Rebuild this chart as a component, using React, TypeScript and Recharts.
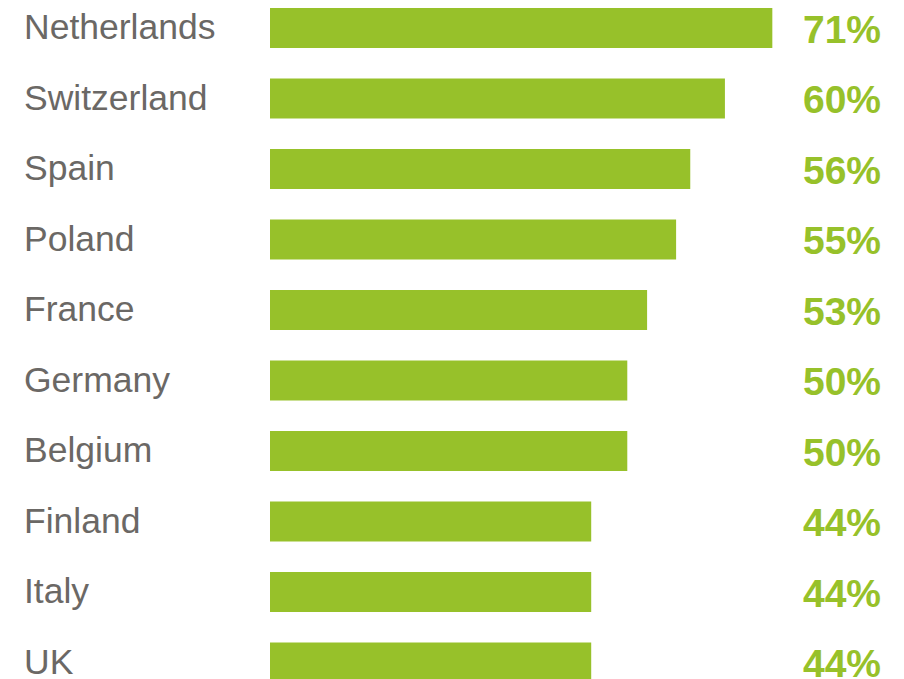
import React from 'react';
import { BarChart, Bar, XAxis, YAxis, LabelList } from 'recharts';

// countries, top to bottom
const countries = ['Netherlands', 'Switzerland', 'Spain', 'Poland', 'France', 'Germany', 'Belgium', 'Finland', 'Italy', 'UK'];
// printed shares (%)
const shares = [71, 60, 56, 55, 53, 50, 50, 44, 44, 44];
// bar lengths as drawn in the picture (same % scale)
const barLengths = [71, 64.3, 59.4, 57.4, 53.3, 50.5, 50.5, 45.4, 45.4, 45.4];

const data = countries.map((country, i) => ({
  country,
  length: barLengths[i],
  label: `${shares[i]}%`,
}));

const GREEN = '#97c12a';
const GREY = '#6b6865';
const FONT = '"Liberation Sans", Arial, Helvetica, sans-serif';

const CountryTick = (props: any) => {
  const { y, payload } = props;
  return (
    <text x={24} y={y} dy={11} textAnchor="start" fill={GREY} fontSize={35.5} fontFamily={FONT}>
      {payload.value}
    </text>
  );
};

const PctLabel = (props: any) => {
  const { y, height, value } = props;
  return (
    <text x={881} y={y + height / 2} dy={14.5} textAnchor="end" fill={GREEN} fontSize={39} fontWeight="bold" fontFamily={FONT}>
      {value}
    </text>
  );
};

const App: React.FC = () => {
  return (
    <div style={{ position: 'fixed', left: 0, top: 0, width: 904, height: 679, overflow: 'hidden', background: '#fff' }}>
      <div style={{ position: 'absolute', left: 0, top: -7 }}>
        <BarChart
          width={904}
          height={705}
          data={data}
          layout="vertical"
          margin={{ top: 0, right: 68, bottom: 0, left: 0 }}
        >
          <XAxis type="number" domain={[0, 80]} hide />
          <YAxis type="category" dataKey="country" width={270} axisLine={false} tickLine={false} tick={<CountryTick />} interval={0} />
          <Bar dataKey="length" fill={GREEN} barSize={40} isAnimationActive={false}>
            <LabelList dataKey="label" content={<PctLabel />} />
          </Bar>
        </BarChart>
      </div>
    </div>
  );
};

export default App;
